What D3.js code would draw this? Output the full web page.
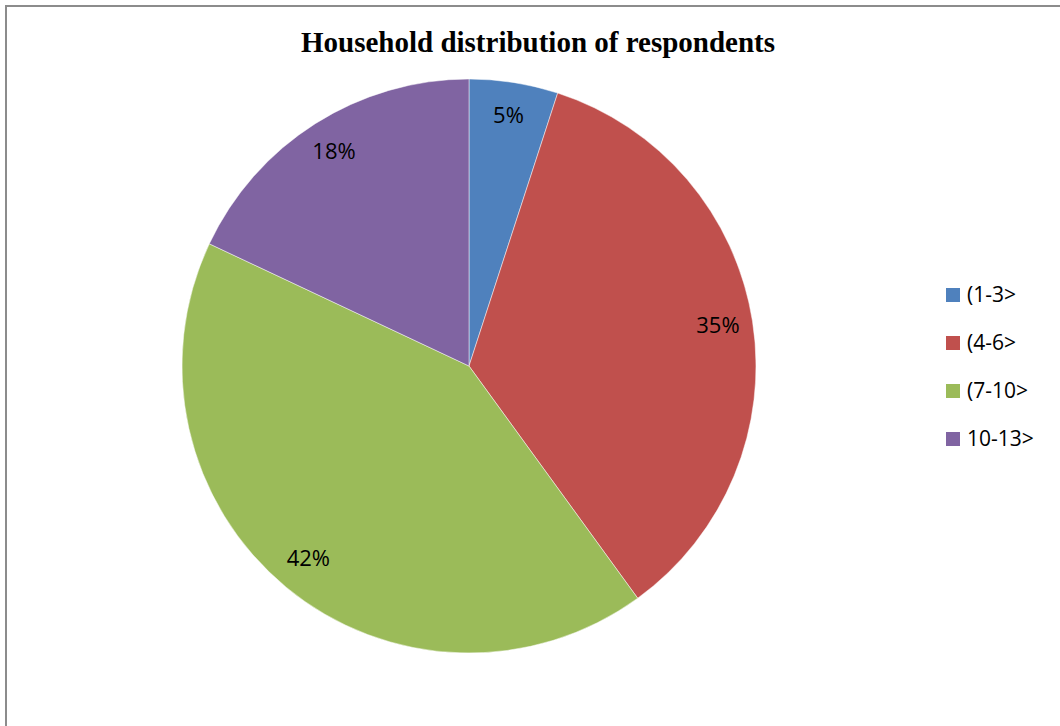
<!DOCTYPE html>
<html>
<head>
<meta charset="utf-8">
<script src="https://cdn.jsdelivr.net/npm/d3@7"></script>
<style>
  html, body { margin: 0; padding: 0; background: #fff; }
  svg { display: block; }
</style>
</head>
<body>
<svg id="chart" width="1060" height="726"></svg>
<script>
// Household size groups and their share of respondents (%)
const categories = ["(1-3>", "(4-6>", "(7-10>", "10-13>"];
const shares = [5, 35, 42, 18];
const colors = ["#4F81BD", "#C0504D", "#9BBB59", "#8064A2"];
const title = "Household distribution of respondents";

const svg = d3.select("#chart");
const W = 1060, H = 726;

// Chart frame (top/left edges visible, the rest runs past the page)
svg.append("rect")
  .attr("x", 6).attr("y", 6)
  .attr("width", W + 10).attr("height", H + 10)
  .attr("fill", "#fff")
  .attr("stroke", "#8c8c8c")
  .attr("stroke-width", 2);

svg.append("text")
  .attr("x", 538).attr("y", 52)
  .attr("text-anchor", "middle")
  .attr("font-family", "'Liberation Serif', 'Times New Roman', serif")
  .attr("font-weight", "bold")
  .attr("font-size", 29)
  .attr("fill", "#000")
  .text(title);

const cx = 469, cy = 366, radius = 287;
const data = categories.map((c, i) => ({ cat: c, value: shares[i], color: colors[i] }));

const pie = d3.pie().value(d => d.value).sort(null);
const arc = d3.arc().innerRadius(0).outerRadius(radius);
const labelArc = d3.arc().innerRadius(252).outerRadius(252);

const g = svg.append("g").attr("transform", `translate(${cx},${cy})`);
const arcs = pie(data);

g.selectAll("path.slice")
  .data(arcs)
  .join("path")
  .attr("class", "slice")
  .attr("d", arc)
  .attr("fill", d => d.data.color)
  .attr("stroke", "#ffffff")
  .attr("stroke-opacity", 0.6)
  .attr("stroke-width", 0.8);

g.selectAll("text.lbl")
  .data(arcs)
  .join("text")
  .attr("class", "lbl")
  .attr("transform", d => {
    const [x, y] = labelArc.centroid(d);
    return `translate(${x},${y - 3})`;
  })
  .attr("text-anchor", "middle")
  .attr("dominant-baseline", "central")
  .attr("font-family", "'Open Sans', sans-serif")
  .attr("font-size", 22)
  .attr("fill", "#000")
  .text(d => d.data.value + "%");

// Legend
const legend = svg.append("g").attr("transform", "translate(946,288)");
const items = legend.selectAll("g.item")
  .data(data)
  .join("g")
  .attr("class", "item")
  .attr("transform", (d, i) => `translate(0,${i * 48})`);

items.append("rect")
  .attr("width", 14).attr("height", 14)
  .attr("fill", d => d.color);

items.append("text")
  .attr("x", 21).attr("y", 14)
  .attr("font-family", "'Open Sans', sans-serif")
  .attr("font-size", 21)
  .attr("fill", "#000")
  .text(d => d.cat);
</script>
</body>
</html>
